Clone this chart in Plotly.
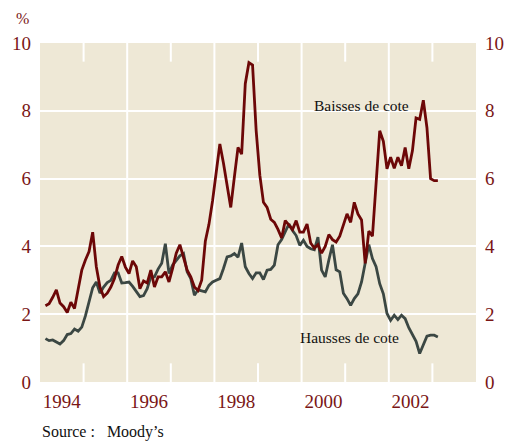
import pandas as pd
import plotly.graph_objects as go

# Monthly rating changes (%), Moody's — Feb 1994 onwards
baisses = [2.25, 2.31, 2.5, 2.72, 2.33, 2.22, 2.05, 2.35, 2.17, 2.8, 3.3, 3.6, 3.85, 4.42, 3.4, 2.8,
           2.52, 2.62, 2.8, 3.05, 3.45, 3.7, 3.39, 3.2, 3.57, 3.4, 2.75, 2.98, 2.92, 3.3, 2.8, 3.1,
           3.1, 3.25, 2.95, 3.35, 3.8, 4.05, 3.65, 3.3, 3.1, 2.8, 2.7, 3.0, 4.15, 4.65, 5.35, 6.2,
           7.02, 6.45, 5.8, 5.15, 6.05, 6.92, 6.72, 8.8, 9.42, 9.35, 7.41, 6.1, 5.3, 5.15, 4.8, 4.71,
           4.5, 4.25, 4.76, 4.62, 4.5, 4.76, 4.42, 4.42, 4.66, 4.1, 3.95, 4.05, 3.8, 4.0, 4.35, 4.2,
           4.13, 4.3, 4.6, 4.96, 4.71, 5.3, 4.96, 4.78, 3.5, 4.45, 4.3, 5.9, 7.41, 7.1, 6.29, 6.63,
           6.3, 6.63, 6.38, 6.92, 6.29, 6.82, 7.79, 7.75, 8.31, 7.5, 6.0, 5.94, 5.94]
hausses = [1.28, 1.22, 1.24, 1.18, 1.12, 1.22, 1.40, 1.43, 1.56, 1.5, 1.62, 1.95, 2.35, 2.78, 2.95, 2.62,
           2.80, 2.93, 3.0, 3.22, 3.22, 2.92, 2.93, 2.95, 2.82, 2.68, 2.52, 2.55, 2.75, 3.1, 3.1, 3.33,
           3.5, 4.08, 3.2, 3.45, 3.6, 3.72, 3.79, 3.25, 3.05, 2.56, 2.72, 2.7, 2.66, 2.85, 2.95, 3.0,
           3.05, 3.35, 3.69, 3.72, 3.79, 3.68, 4.1, 3.4, 3.2, 3.05, 3.22, 3.22, 3.02, 3.3, 3.32, 3.45,
           4.05, 4.2, 4.42, 4.66, 4.47, 4.32, 4.03, 4.18, 4.0, 3.93, 3.9, 4.27, 3.3, 3.1, 3.6, 4.05,
           3.31, 3.25, 2.62, 2.46, 2.26, 2.46, 2.6, 2.95, 3.5, 4.05, 3.64, 3.4, 2.9, 2.6, 2.02, 1.82,
           1.97, 1.84, 1.97, 1.87, 1.6, 1.4, 1.2, 0.84, 1.12, 1.35, 1.38, 1.38, 1.33]
year_labels = ["1994", "1996", "1998", "2000", "2002"]
label_years = [1994.5, 1996.5, 1998.5, 2000.5, 2002.5]
grid_years = [1996, 1998, 2000, 2002]
tick_years = [1995, 1997, 1999, 2001, 2003]
y_ticks = [0, 2, 4, 6, 8, 10]

months = pd.period_range("1994-02", periods=len(baisses), freq="M")
x = [p.year + (p.month - 0.5) / 12 for p in months]

RED = "#6c0707"
GRAY = "#3b4743"
LABEL = "#7a1616"
BG = "#eee8d6"
FONT = "Liberation Serif"

fig = go.Figure()
fig.add_trace(go.Scatter(x=x, y=hausses, mode="lines", line=dict(color=GRAY, width=2.8),
                         name="Hausses de cote", hoverinfo="skip"))
fig.add_trace(go.Scatter(x=x, y=baisses, mode="lines", line=dict(color=RED, width=2.8),
                         name="Baisses de cote", hoverinfo="skip"))

shapes = []
for g in grid_years:
    shapes.append(dict(type="line", xref="x", yref="paper", x0=g, x1=g, y0=0, y1=1,
                       line=dict(color="white", width=2), layer="below"))
for t in tick_years:
    shapes.append(dict(type="line", xref="x", yref="paper", x0=t, x1=t, y0=0, y1=0.055,
                       line=dict(color="white", width=2), layer="below"))
    shapes.append(dict(type="line", xref="x", yref="paper", x0=t, x1=t, y0=0.945, y1=1,
                       line=dict(color="white", width=2), layer="below"))

fig.update_layout(
    width=507, height=441,
    margin=dict(l=40, r=31, t=43, b=59, autoexpand=False),
    paper_bgcolor="white", plot_bgcolor=BG,
    showlegend=False,
    font=dict(family=FONT, color=LABEL),
    shapes=shapes,
    xaxis=dict(range=[1994, 2004], tickmode="array", tickvals=label_years, ticktext=year_labels,
               showgrid=False, zeroline=False, showline=False, ticks="", automargin=False,
               tickfont=dict(family=FONT, size=19, color=LABEL), ticklabelstandoff=6),
    yaxis=dict(range=[0, 10], tickmode="array", tickvals=y_ticks, showgrid=True,
               gridcolor="white", gridwidth=2, zeroline=False, showline=False, ticks="",
               automargin=False,
               tickfont=dict(family=FONT, size=19, color=LABEL), ticklabelstandoff=8),
    yaxis2=dict(range=[0, 10], tickmode="array", tickvals=y_ticks, overlaying="y", side="right",
                showgrid=False, zeroline=False, showline=False, ticks="", automargin=False,
                tickfont=dict(family=FONT, size=19, color=LABEL), ticklabelstandoff=8),
    annotations=[
        dict(x=2001.37, y=8.15, xref="x", yref="y", text="Baisses de cote", showarrow=False,
             font=dict(family=FONT, size=15.5, color="#111111")),
        dict(x=2001.1, y=1.3, xref="x", yref="y", text="Hausses de cote", showarrow=False,
             font=dict(family=FONT, size=15.5, color="#111111")),
        dict(x=0, y=-0.147, xref="paper", yref="paper", text="Source :   Moody’s", showarrow=False,
             xanchor="left", yanchor="middle", font=dict(family=FONT, size=16, color="#111111")),
        dict(x=-0.039, y=1.071, xref="paper", yref="paper", text="%", showarrow=False,
             xanchor="center", yanchor="middle", font=dict(family=FONT, size=16, color=LABEL)),
    ],
)
# keep right axis rendered
fig.add_trace(go.Scatter(x=[None], y=[None], yaxis="y2", showlegend=False, hoverinfo="skip"))

fig.write_html("out.html", config={"displayModeBar": False},
               post_script="document.body.style.margin='0';document.body.style.overflow='hidden';")
